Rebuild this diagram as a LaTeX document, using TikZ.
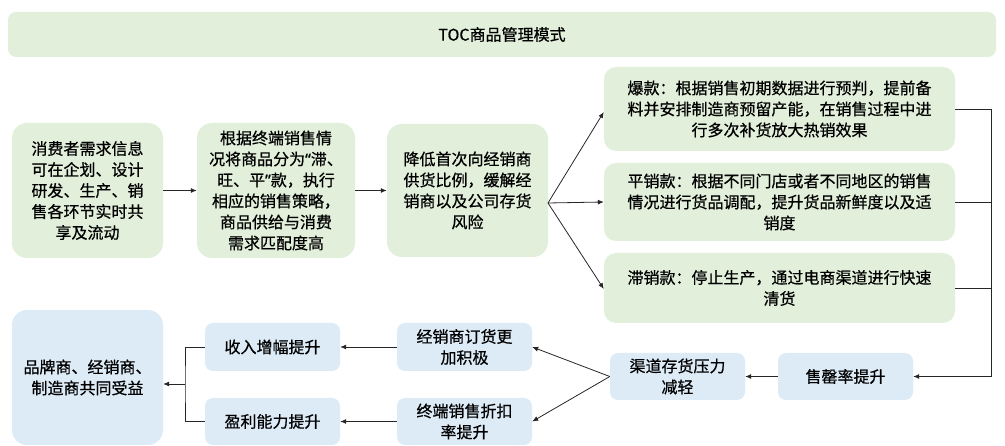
\documentclass[tikz,border=0pt]{standalone}
\usepackage{fontspec}
\newfontfamily\cjk[FakeBold=0.6]{Noto Sans CJK SC}
\newfontfamily\lat[FakeBold=0.6]{Noto Sans}
\usetikzlibrary{arrows.meta}
\definecolor{gfill}{HTML}{E2EFDA}
\definecolor{bfill}{HTML}{DDEBF7}
\definecolor{lcol}{HTML}{262626}
\begin{document}
\begin{tikzpicture}[x=1pt,y=-1pt,
  base/.style={draw=none, align=center, inner sep=0pt, font=\cjk\fontsize{16}{21}\selectfont, text=black},
  gbig/.style={base, fill=gfill, rounded corners=15pt},
  gbox/.style={base, fill=gfill, rounded corners=12pt},
  bbig/.style={base, fill=bfill, rounded corners=15pt},
  bbox/.style={base, fill=bfill, rounded corners=8pt, minimum width=135pt, minimum height=47pt},
  conn/.style={draw=lcol, line width=0.8pt},
  arr/.style={conn, -{Latex[length=6pt,width=5pt]}}
]
\useasboundingbox (0,0) rectangle (1005,446);
% title
\node[base, fill=gfill, rounded corners=8pt, minimum width=988pt, minimum height=45pt] (title) at (502,34.5) {TOC商品管理模式};
% top row
\node[gbig, minimum width=151pt, minimum height=135pt] (b1) at (87.5,190.5)
  {消费者需求信息\\可在企划、设计\\研发、生产、销\\售各环节实时共\\享及流动};
\node[gbig, minimum width=158pt, minimum height=135pt] (b2) at (276,190.5)
  {根据终端销售情\\况将商品分为{\lat “}滞、\\旺、平{\lat ”}款，执行\\相应的销售策略，\\商品供给与消费\\需求匹配度高};
\node[gbig, minimum width=161pt, minimum height=133pt] (b3) at (467.5,190.5)
  {降低首次向经销商\\供货比例，缓解经\\销商以及公司存货\\风险};
% right column
\node[gbox, minimum width=351pt, minimum height=84pt] (bao) at (779.5,109)
  {爆款：根据销售初期数据进行预判，提前备\\料并安排制造商预留产能，在销售过程中进\\行多次补货放大热销效果};
\node[gbox, minimum width=351pt, minimum height=78pt] (ping) at (779.5,202)
  {平销款：根据不同门店或者不同地区的销售\\情况进行货品调配，提升货品新鲜度以及适\\销度};
\node[gbox, minimum width=351pt, minimum height=70pt] (zhi) at (779.5,288)
  {滞销款：停止生产，通过电商渠道进行快速\\清货};
% bottom row
\node[bbox] (sq) at (845.5,376.5) {售罄率提升};
\node[bbox] (qd) at (677.5,376.5) {渠道存货压力\\减轻};
\node[bbox, minimum height=48pt] (jx) at (464.5,347) {经销商订货更\\加积极};
\node[bbox] (zd) at (464.5,421.5) {终端销售折扣\\率提升};
\node[bbox, minimum height=48pt] (sr) at (272.5,347) {收入增幅提升};
\node[bbox] (yl) at (272.5,421.5) {盈利能力提升};
\node[bbig, minimum width=151pt, minimum height=135pt] (pp) at (87.5,377.5)
  {品牌商、经销商、\\制造商共同受益};
% connectors
\draw[arr] (b1.east) -- (b2.west);
\draw[arr] (b2.east) -- (b3.west);
\coordinate (fan) at (548,203);
\draw[arr] (fan) -- ([yshift=-3pt]bao.south west |- bao.west);
\draw[arr] (fan) -- (ping.west);
\draw[arr] (fan) -- ([yshift=-1pt]zhi.west);
\coordinate (rx) at (991,0);
\draw[arr] (bao.east) -| (rx |- sq.east) -- (sq.east);
\draw[conn] (ping.east) -- (rx |- ping.east);
\draw[conn] (zhi.east) -- (rx |- zhi.east);
\draw[arr] (sq.west) -- (qd.east);
\draw[arr] (qd.west) -- (jx.east);
\draw[arr] (qd.west) -- (zd.east);
\draw[arr] (jx.west) -- (sr.east);
\draw[arr] (zd.west) -- (yl.east);
\coordinate (bm) at (185,384);
\draw[conn] (sr.west) -| (bm) |- (yl.west);
\draw[arr] (bm) -- (pp.east |- bm);
\end{tikzpicture}
\end{document}
